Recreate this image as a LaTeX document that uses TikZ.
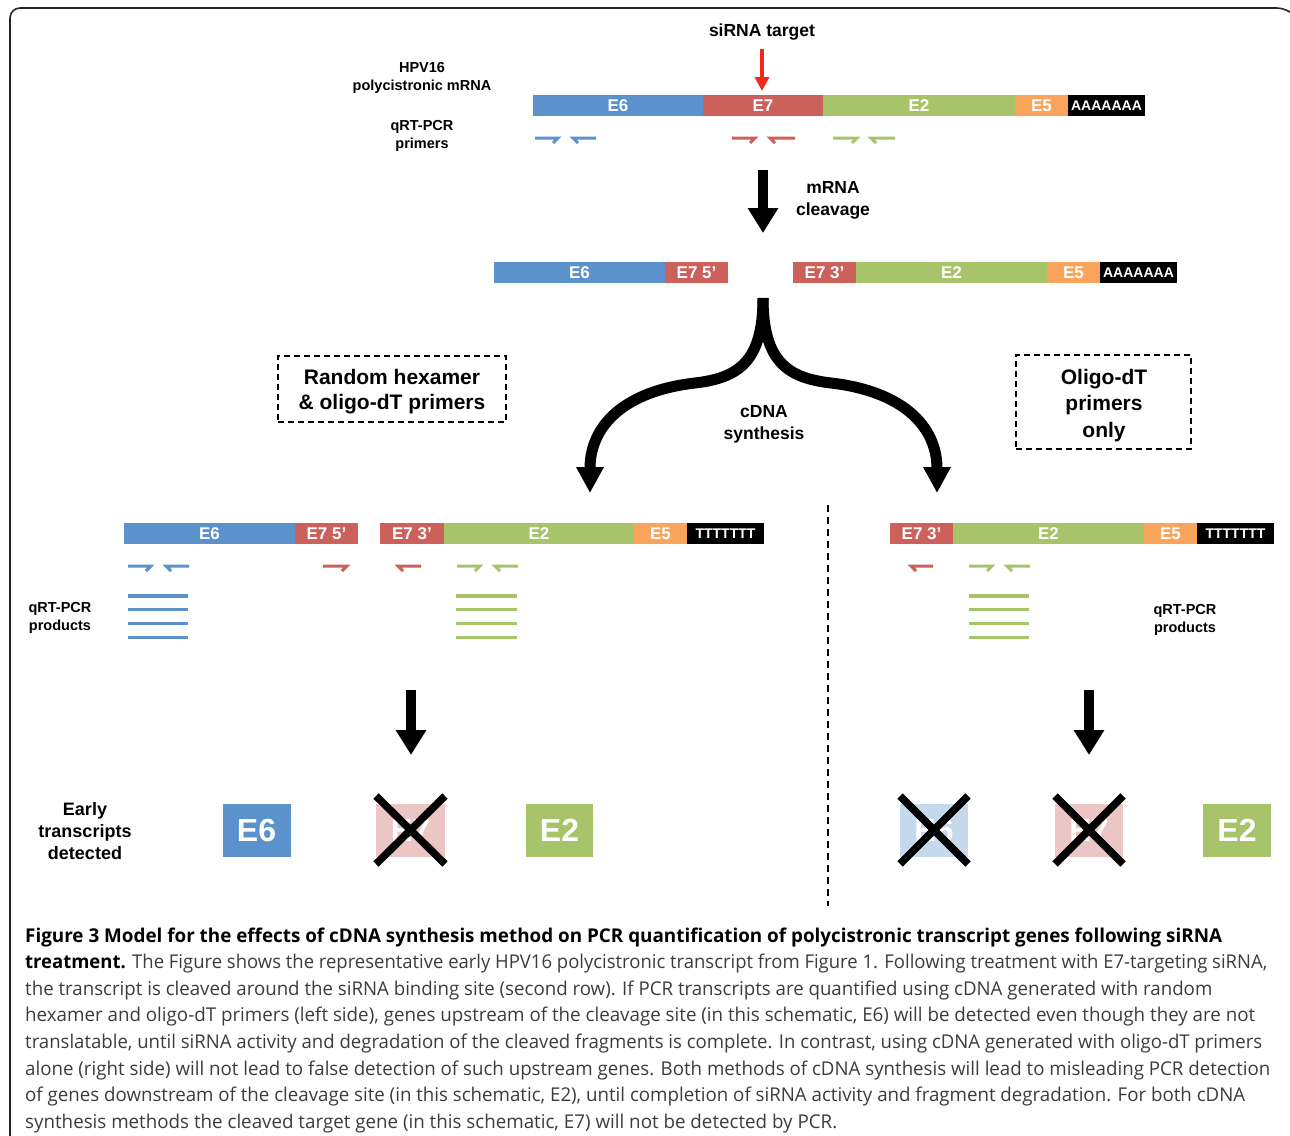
\documentclass[tikz,border=0pt]{standalone}
\usepackage{fontspec}
\setmainfont{Liberation Sans}
\newfontfamily\capfont{Open Sans}
\usepackage{graphicx}
\usetikzlibrary{arrows.meta}
\definecolor{cblue}{RGB}{91,146,203}
\definecolor{cred}{RGB}{204,96,90}
\definecolor{cgreen}{RGB}{168,196,106}
\definecolor{corange}{RGB}{248,164,90}
\definecolor{cpblue}{RGB}{197,216,236}
\definecolor{cppink}{RGB}{236,197,197}
\definecolor{cbright}{RGB}{240,40,30}
\definecolor{capgray}{RGB}{60,60,60}
\newcommand\myfs[2]{\fontsize{#1}{#2}\selectfont}
\tikzset{
  seg/.style={draw=none, inner sep=0pt, outer sep=0pt, text=white, font=\bfseries\myfs{17}{17}},
  lbl/.style={align=center, inner sep=0pt, font=\bfseries\myfs{14.5}{18}},
  lblbig/.style={align=center, inner sep=0pt, font=\bfseries\myfs{17.5}{22}},
  primer/.style={line width=3pt, line join=miter},
  prod/.style={line width=3.5pt},
  bigarrow/.style={line width=10pt, -{Triangle[width=29pt,length=25pt]}},
  curvarrow/.style={line width=11pt, -{Triangle[width=26pt,length=26pt]}},
  dashbox/.style={draw, dash pattern=on 6pt off 4pt, line width=1.6pt, inner sep=0pt},
  boxtext/.style={align=center, inner sep=0pt, font=\bfseries\myfs{21}{25.5}},
  det/.style={inner sep=0pt, outer sep=0pt, minimum width=68pt, minimum height=53pt, text=white, font=\bfseries\myfs{32}{32}},
  crossline/.style={line width=7.5pt},
}
% name, x1, x2, y1, y2, colour, text
\newcommand\seg[7]{\node[seg, fill=#6, minimum width={#3-#2}, minimum height={#5-#4}] (#1) at ({(#2+#3)/2},{(#4+#5)/2}) {#7};}
% forward / reverse primers: x1, x2, y, colour
\newcommand\fwdp[4]{\draw[primer,#4] (#1,#3) -- (#2,#3) -- (#2-5,#3+5);}
\newcommand\revp[4]{\draw[primer,#4] (#2,#3) -- (#1,#3) -- (#1+5,#3+5);}
\newcommand\capline[4]{\node[anchor=base west, inner sep=0pt] (#1) at (25,#2) {\resizebox{#3pt}{\height}{\capfont\myfs{19}{19}#4}};}
\begin{document}
\begin{tikzpicture}[x=1pt,y=-1pt]
\useasboundingbox (0,0) rectangle (1290,1135);
% frame
\draw[line width=1.6pt, black!85, rounded corners=10pt] (10,1140) -- (10,8) -- (1287,8) -- (1291,12);

% ---------- row 1 ----------
\node[lblbig] (sirna) at (762,32) {siRNA target};
\coordinate (redstart) at (762,49);
\coordinate (redtip) at (762,91);
\draw[line width=3.5pt, cbright, -{Triangle[width=14pt,length=14pt]}] (redstart) -- (redtip);
\node[lbl] (hpv) at (422,78) {HPV16\\polycistronic mRNA};
\node[lbl] (qp1) at (422,136) {qRT-PCR\\primers};
\seg{aE6}{533}{703}{95}{116}{cblue}{E6}
\seg{aE7}{703}{823}{95}{116}{cred}{E7}
\seg{aE2}{823}{1015}{95}{116}{cgreen}{E2}
\seg{aE5}{1015}{1068}{95}{116}{corange}{E5}
\seg{aPA}{1068}{1145}{95}{116}{black}{\myfs{14}{14}AAAAAAA}
\fwdp{535}{558}{138}{cblue}
\revp{573}{596}{138}{cblue}
\fwdp{732}{755}{138}{cred}
\revp{770}{795}{138}{cred}
\fwdp{833}{857}{138}{cgreen}
\revp{871}{895}{138}{cgreen}

% ---------- cleavage ----------
\coordinate (ar1s) at (763,170);
\coordinate (ar1e) at (763,233);
\draw[bigarrow] (ar1s) -- (ar1e);
\node[lblbig] (cleave) at (833,200) {mRNA\\cleavage};

% ---------- row 2 ----------
\seg{bE6}{494}{665}{262}{283}{cblue}{E6}
\seg{bE7a}{665}{728}{262}{283}{cred}{E7 5’}
\seg{bE7b}{793}{856}{262}{283}{cred}{E7 3’}
\seg{bE2}{856}{1047}{262}{283}{cgreen}{E2}
\seg{bE5}{1047}{1100}{262}{283}{corange}{E5}
\seg{bPA}{1100}{1177}{262}{283}{black}{\myfs{14}{14}AAAAAAA}

% ---------- split arrow ----------
\coordinate (split) at (763,298);
\coordinate (lefttip) at (590,493);
\coordinate (righttip) at (937,493);
\draw[curvarrow] (split) .. controls (763,362) and (738,378) .. (695,383) .. controls (625,391) and (590,425) .. (lefttip);
\draw[curvarrow] (split) .. controls (763,362) and (788,378) .. (831,383) .. controls (901,391) and (937,425) .. (righttip);
\node[lblbig] (cdna) at (764,424) {cDNA\\synthesis};

\node[dashbox, minimum width=228pt, minimum height=66pt] (boxL) at (392,389) {};
\node[boxtext] (boxLt) at (392,391.5) {Random hexamer\\\& oligo-dT primers};
\node[dashbox, minimum width=175pt, minimum height=94pt] (boxR) at (1103.5,402) {};
\node[boxtext, font=\bfseries\myfs{21}{26.5}] (boxRt) at (1104,405.5) {Oligo-dT\\primers\\only};

% divider
\coordinate (divtop) at (828,505);
\coordinate (divbot) at (828,906);
\draw[dash pattern=on 7pt off 5pt, line width=1.6pt] (divtop) -- (divbot);

% ---------- row 3 left ----------
\seg{cE6}{124}{295}{523}{544}{cblue}{E6}
\seg{cE7a}{295}{358}{523}{544}{cred}{E7 5’}
\seg{cE7b}{380}{444}{523}{544}{cred}{E7 3’}
\seg{cE2}{444}{634}{523}{544}{cgreen}{E2}
\seg{cE5}{634}{687}{523}{544}{corange}{E5}
\seg{cPT}{687}{764}{523}{544}{black}{\myfs{14}{14}TTTTTTT}
\fwdp{128}{151}{566}{cblue}
\revp{166}{189}{566}{cblue}
\fwdp{323}{347}{566}{cred}
\revp{398}{421}{566}{cred}
\fwdp{457}{480}{566}{cgreen}
\revp{495}{518}{566}{cgreen}
\foreach \yy in {596,609.5,623.5,637.5}{
  \draw[prod,cblue] (128,\yy) -- (188,\yy);
  \draw[prod,cgreen] (456,\yy) -- (517,\yy);
}
\node[lbl] (prodL) at (60,618) {qRT-PCR\\products};

% ---------- row 3 right ----------
\seg{dE7b}{890}{953}{523}{544}{cred}{E7 3’}
\seg{dE2}{953}{1144}{523}{544}{cgreen}{E2}
\seg{dE5}{1144}{1197}{523}{544}{corange}{E5}
\seg{dPT}{1197}{1274}{523}{544}{black}{\myfs{14}{14}TTTTTTT}
\revp{911}{933}{566}{cred}
\fwdp{969}{992}{566}{cgreen}
\revp{1007}{1030}{566}{cgreen}
\foreach \yy in {596,609.5,623.5,637.5}{
  \draw[prod,cgreen] (969,\yy) -- (1029,\yy);
}
\node[lbl] (prodR) at (1185,620) {qRT-PCR\\products};

% ---------- down arrows ----------
\coordinate (ar2s) at (411,690);
\coordinate (ar2e) at (411,755);
\coordinate (ar3s) at (1089,690);
\coordinate (ar3e) at (1089,755);
\draw[bigarrow] (ar2s) -- (ar2e);
\draw[bigarrow] (ar3s) -- (ar3e);

% ---------- detected ----------
\node[align=center, inner sep=0pt, font=\bfseries\myfs{18}{22}] (early) at (85,831) {Early\\transcripts\\detected};
\node[det, fill=cblue] (dL6) at (256.5,830.5) {E6};
\node[det, fill=cppink, minimum width=69pt] (dL7) at (410.5,830.5) {E7};
\node[det, fill=cgreen, minimum width=67pt] (dL2) at (559.5,830.5) {E2};
\node[det, fill=cpblue] (dR6) at (934,830.5) {E6};
\node[det, fill=cppink] (dR7) at (1089,830.5) {E7};
\node[det, fill=cgreen] (dR2) at (1237,830.5) {E2};
\foreach \bx in {dL7,dR6,dR7}{
  \draw[crossline] ([yshift=8pt]\bx.north west) -- ([yshift=-7pt]\bx.south east);
  \draw[crossline] ([yshift=8pt]\bx.north east) -- ([yshift=-7pt]\bx.south west);
}

% ---------- caption ----------
\capline{cap1}{942}{1197}{\color{black}\bfseries Figure 3 Model for the effects of cDNA synthesis method on PCR quantification of polycistronic transcript genes following siRNA}
\capline{cap2}{968.5}{1242}{\color{black}\textbf{treatment.} \color{capgray}The Figure shows the representative early HPV16 polycistronic transcript from Figure 1. Following treatment with E7-targeting siRNA,}
\capline{cap3}{995}{1187}{\color{capgray}the transcript is cleaved around the siRNA binding site (second row). If PCR transcripts are quantified using cDNA generated with random}
\capline{cap4}{1021.5}{1230}{\color{capgray}hexamer and oligo-dT primers (left side), genes upstream of the cleavage site (in this schematic, E6) will be detected even though they are not}
\capline{cap5}{1048}{1237}{\color{capgray}translatable, until siRNA activity and degradation of the cleaved fragments is complete. In contrast, using cDNA generated with oligo-dT primers}
\capline{cap6}{1075}{1245}{\color{capgray}alone (right side) will not lead to false detection of such upstream genes. Both methods of cDNA synthesis will lead to misleading PCR detection}
\capline{cap7}{1101.5}{1220}{\color{capgray}of genes downstream of the cleavage site (in this schematic, E2), until completion of siRNA activity and fragment degradation. For both cDNA}
\capline{cap8}{1128}{812}{\color{capgray}synthesis methods the cleaved target gene (in this schematic, E7) will not be detected by PCR.}
\end{tikzpicture}
\end{document}
